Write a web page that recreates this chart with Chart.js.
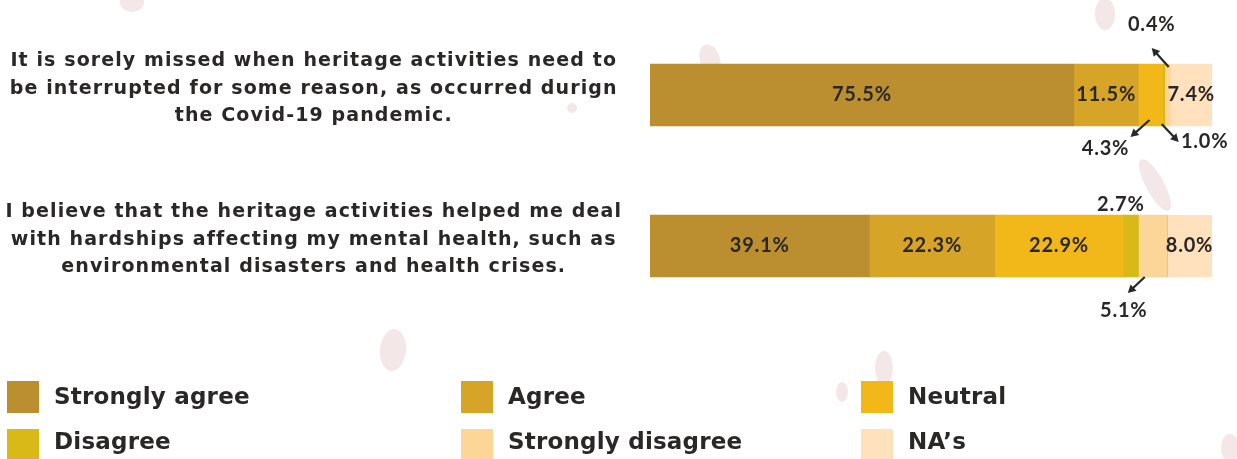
<!DOCTYPE html>
<html>
<head>
<meta charset="utf-8">
<script src="https://cdn.jsdelivr.net/npm/chart.js@4"></script>
<style>
  body { margin: 0; background: #fff; }
  #survey { display: block; }
</style>
</head>
<body>
<canvas id="survey" width="1237" height="459"></canvas>
<script>
// statements (wrapped the way they are shown)
const questions = [
  ['It is sorely missed when heritage activities need to', 'be interrupted for some reason, as occurred durign', 'the Covid-19 pandemic.'],
  ['I believe that the heritage activities helped me deal', 'with hardships affecting my mental health, such as', 'environmental disasters and health crises.']
]
const answers = ['Strongly agree', 'Agree', 'Neutral', 'Disagree', 'Strongly disagree', 'NA\u2019s']

// share of answers in %, one value per statement
const stronglyAgree = [75.5, 39.1]
const agree = [11.5, 22.3]
const neutral = [4.3, 22.9]
const disagree = [0.4, 2.7]
const stronglyDisagree = [1.0, 5.1]
const notAnswered = [7.4, 8.0]

const colours = ['#BB8E2F', '#D6A527', '#F2B718', '#D8B917', '#FCD698', '#FFE1BE']
const ink = '#2a2727'

// small slices get their label outside the bar: [dataset, row] -> where
// anchor is the middle of the slice on the top or bottom edge
const callouts = {
  '2-0': { edge: 'bottom', text: [-45, 23], arrow: [-1, -6, -20, 11] },
  '3-0': { edge: 'top', text: [-12, -39], arrow: [5, 3, -12, -16] },
  '4-0': { edge: 'bottom', text: [37, 16], arrow: [-6, -2, 11, 16] },
  '3-1': { edge: 'top', text: [-10, -10] },
  '4-1': { edge: 'bottom', text: [-29, 34], arrow: [-8, 0, -25, 16] }
}

const series = [stronglyAgree, agree, neutral, disagree, stronglyDisagree, notAnswered]
const total = Math.max(...questions.map((q, i) => series.reduce((s, arr) => s + arr[i], 0)))

const drawArrow = (c, x1, y1, x2, y2) => {
  const ang = Math.atan2(y2 - y1, x2 - x1)
  c.save()
  c.strokeStyle = ink
  c.fillStyle = ink
  c.lineWidth = 2.2
  c.beginPath()
  c.moveTo(x1, y1)
  c.lineTo(x2 - 4 * Math.cos(ang), y2 - 4 * Math.sin(ang))
  c.stroke()
  c.beginPath()
  c.moveTo(x2, y2)
  c.lineTo(x2 - 9 * Math.cos(ang - 0.5), y2 - 9 * Math.sin(ang - 0.5))
  c.lineTo(x2 - 9 * Math.cos(ang + 0.5), y2 - 9 * Math.sin(ang + 0.5))
  c.closePath()
  c.fill()
  c.restore()
}

// faint paint dabs in the background
const blobs = [
  [132, 2, 12, 10, 0], [393, 350, 13, 21, 0.1], [572, 108, 5, 5, 0],
  [710, 60, 10, 16, -0.3], [1155, 185, 9, 29, -0.5],
  [884, 368, 9, 17, 0], [842, 392, 6, 10, 0], [1105, 14, 10, 16, 0], [1230, 448, 9, 14, 0]
]

// statement text is spaced out a little; set it while measuring and drawing the axis
const spacing = {
  id: 'spacing',
  beforeLayout(chart) { chart.ctx.letterSpacing = '1.1px' },
  afterLayout(chart) { chart.ctx.letterSpacing = '0px' },
  beforeDraw(chart) { chart.ctx.letterSpacing = '1.1px' },
  beforeDatasetsDraw(chart) { chart.ctx.letterSpacing = '0px' }
}

const backdrop = {
  id: 'backdrop',
  beforeDraw(chart) {
    const c = chart.ctx
    c.save()
    c.fillStyle = '#f3e7e7'
    blobs.forEach(b => {
      c.beginPath()
      c.ellipse(b[0], b[1], b[2], b[3], b[4], 0, Math.PI * 2)
      c.fill()
    })
    c.restore()
  }
}

const valueLabels = {
  id: 'valueLabels',
  afterDatasetsDraw(chart) {
    const c = chart.ctx
    c.save()
    c.font = '700 20px Lato'
    c.letterSpacing = '0.8px'
    c.fillStyle = ink
    c.textAlign = 'center'
    c.textBaseline = 'middle'
    chart.data.datasets.forEach((ds, di) => {
      chart.getDatasetMeta(di).data.forEach((bar, row) => {
        const txt = ds.data[row].toFixed(1) + '%'
        const mid = (bar.x + bar.base) / 2
        const co = callouts[di + '-' + row]
        if (!co) {
          c.fillText(txt, mid, bar.y)
          return
        }
        const ay = co.edge === 'top' ? bar.y - bar.height / 2 : bar.y + bar.height / 2
        if (co.arrow) {
          const a = co.arrow
          drawArrow(c, mid + a[0], ay + a[1], mid + a[2], ay + a[3])
        }
        c.fillText(txt, mid + co.text[0], ay + co.text[1])
      })
    })
    c.restore()
  }
}

const legendBoxes = {
  id: 'legendBoxes',
  afterDraw(chart) {
    const c = chart.ctx
    const cols = [7, 461, 861]
    const rows = [397, 445]
    c.save()
    c.font = 'bold 23px "DejaVu Sans"'
    c.letterSpacing = '0.2px'
    c.textBaseline = 'middle'
    chart.data.datasets.forEach((ds, i) => {
      const x = cols[i % 3]
      const r = Math.floor(i / 3)
      const y = rows[r]
      c.fillStyle = ds.backgroundColor
      c.fillRect(x, y - 16, 32, 32)
      c.fillStyle = ink
      c.fillText(ds.label, x + 47, y + (r ? -2 : 1))
    })
    c.restore()
  }
}

new Chart(document.getElementById('survey'), {
  type: 'bar',
  data: {
    labels: questions,
    datasets: answers.map((a, i) => ({
      label: a,
      data: series[i],
      backgroundColor: colours[i],
      // thin seam on the left of the last slice of the second bar
      borderColor: '#F0957C',
      borderWidth: ctx => (i === 5 && ctx.dataIndex === 1 ? { left: 1, right: 0, top: 0, bottom: 0 } : 0),
      borderSkipped: false,
      barThickness: 62
    }))
  },
  options: {
    indexAxis: 'y',
    responsive: false,
    animation: false,
    devicePixelRatio: 1,
    layout: { padding: { top: 19.5, bottom: 137.5, left: 0, right: 25 } },
    plugins: {
      legend: { display: false },
      tooltip: { enabled: false }
    },
    scales: {
      x: { stacked: true, display: false, min: 0, max: total },
      y: {
        stacked: true,
        grid: { display: false, drawTicks: false },
        border: { display: false },
        afterFit(scale) {
          scale.width = 650
          scale.paddingTop = 0
          scale.paddingBottom = 0
        },
        ticks: {
          crossAlign: 'center',
          padding: 28,
          labelOffset: -6,
          color: ink,
          font: { family: 'DejaVu Sans', weight: 'bold', size: 19, lineHeight: '27.5px' }
        }
      }
    }
  },
  plugins: [spacing, backdrop, valueLabels, legendBoxes]
})
</script>
</body>
</html>
